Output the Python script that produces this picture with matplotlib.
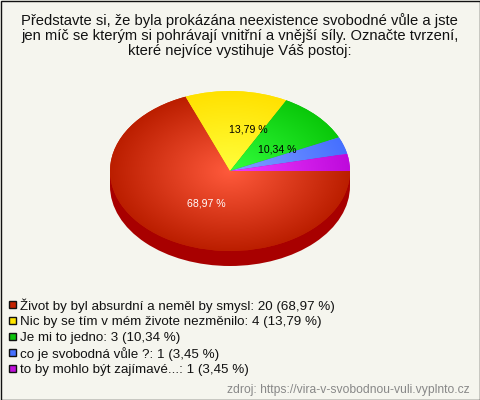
import numpy as np
import matplotlib
matplotlib.use('Agg')
import matplotlib.pyplot as plt
from matplotlib.patches import Ellipse, Rectangle

plt.rcParams['font.family'] = ['Liberation Sans', 'DejaVu Sans']

title_lines = ['Představte si, že byla prokázána neexistence svobodné vůle a jste',
               'jen míč se kterým si pohrávají vnitřní a vnější síly. Označte tvrzení,',
               'které nejvíce vystihuje Váš postoj:']
labels = ['Život by byl absurdní a neměl by smysl', 'Nic by se tím v mém živote nezměnilo',
          'Je mi to jedno', 'co je svobodná vůle ?', 'to by mohlo být zajímavé...']
counts = [20, 4, 3, 1, 1]
percents = ['68,97', '13,79', '10,34', '3,45', '3,45']
source = 'zdroj: https://vira-v-svobodnou-vuli.vyplnto.cz'

inner = ['#ff5a3c', '#ffff3c', '#32ff3c', '#82a0ff', '#f03cff']
outer = ['#bb1e00', '#ffe100', '#0ac80a', '#4670ff', '#be0adc']
legend_cols = ['#c42200', '#ffe600', '#0cc40c', '#4670ff', '#c010dc']
bg = '#f5f5ee'
W, H = 480, 400

fig = plt.figure(figsize=(W/100, H/100), dpi=100, facecolor=bg)

# whole figure axes, works in pixels
base = fig.add_axes([0, 0, 1, 1], zorder=0)
base.set_xlim(0, W)
base.set_ylim(H, 0)
base.axis('off')
base.add_patch(Rectangle((0.5, 0.5), W-1, H-1, fc=bg, ec='#111111', lw=1))

y = 21
for line in title_lines:
    base.text(239.5, y, line, ha='center', va='center', fontsize=10.6, color='#111111')
    y += 15.2

# pie: axes stretched over the ellipse box so the circle turns into the ellipse
cx, cy, rx, ry, depth = 230, 171, 120, 80, 15
ax = fig.add_axes([(cx-rx)/W, 1-(cy+ry)/H, 2*rx/W, 2*ry/H], zorder=1)
wedges, _ = ax.pie(counts, colors=legend_cols, startangle=0, counterclock=False, radius=1,
                   wedgeprops={'linewidth': 0, 'zorder': 3})
ax.set_aspect('auto')
ax.axis('off')

d = depth/ry
ax.add_patch(Ellipse((0, -d), 2, 2, fc='#a80000', ec='none', zorder=1, clip_on=False))
ax.add_patch(Rectangle((-1, -d), 2, d, fc='#a80000', ec='none', zorder=1, clip_on=False))

gx, gy = np.meshgrid(np.linspace(-1, 1, 300), np.linspace(-1, 1, 300))
r = np.clip(np.sqrt(gx**2 + gy**2), 0, 1)[..., None]
for w, c0, c1 in zip(wedges, inner, outer):
    a = np.array(matplotlib.colors.to_rgb(c0))
    b = np.array(matplotlib.colors.to_rgb(c1))
    im = ax.imshow(a + (b-a)*r, extent=(-1, 1, -1, 1), origin='lower', aspect='auto', zorder=4)
    im.set_clip_path(w)
ax.set_xlim(-1, 1)
ax.set_ylim(-1, 1)

# percent labels and legend on top
top = fig.add_axes([0, 0, 1, 1], zorder=2)
top.set_xlim(0, W)
top.set_ylim(H, 0)
top.axis('off')
top.text(206.5, 203, percents[0] + ' %', ha='center', va='center', fontsize=7.6, color='white')
top.text(248, 130, percents[1] + ' %', ha='center', va='center', fontsize=7.6, color='black')
top.text(277, 149, percents[2] + ' %', ha='center', va='center', fontsize=7.6, color='black')

y = 305
for lab, n, p, col in zip(labels, counts, percents, legend_cols):
    top.add_patch(Rectangle((9, y-4), 7, 7, fc=col, ec='#111111', lw=1))
    top.text(20, y+0.8, '%s: %d (%s %%)' % (lab, n, p), ha='left', va='center', fontsize=9.64, color='#111111')
    y += 16

top.text(470, 389.5, source, ha='right', va='center', fontsize=8.73, color='#888888')

fig.savefig('out.png', dpi=100, facecolor=bg)
